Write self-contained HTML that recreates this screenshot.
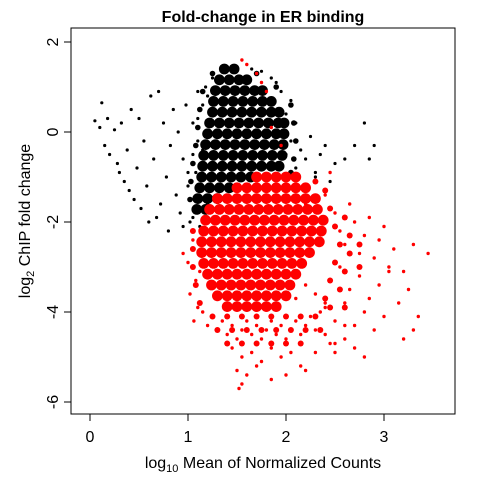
<!DOCTYPE html>
<html><head><meta charset="utf-8">
<style>
html,body{margin:0;padding:0;background:#fff;}
svg{display:block;font-family:"Liberation Sans",Arial,sans-serif;}
</style></head>
<body>
<svg id="chart" width="480" height="480" viewBox="0 0 480 480" xmlns="http://www.w3.org/2000/svg">
<text x="263" y="22" text-anchor="middle" font-size="16" font-weight="bold">Fold-change in ER binding</text>
<g id="marks"></g>
<rect x="71" y="28" width="384" height="386" fill="none" stroke="#000" stroke-width="1"/>
<g id="axes"></g>
<text x="263" y="468" text-anchor="middle" font-size="16">log<tspan font-size="11" dy="4">10</tspan><tspan dy="-4"> Mean of Normalized Counts</tspan></text>
<text transform="translate(30,221) rotate(-90)" text-anchor="middle" font-size="16">log<tspan font-size="11" dy="4">2</tspan><tspan dy="-4"> ChIP fold change</tspan></text>
</svg>
<script>
const xTicks=[0,1,2,3];
const yTicks=[2,0,-2,-4,-6];
const blackCoreX=[1.37,1.47, 1.32,1.42,1.52,1.60, 1.28,1.38,1.48,1.58,1.68,1.76, 1.26,1.36,1.46,1.56,1.66,1.76,1.85, 1.25,1.35,1.45,1.55,1.65,1.75,1.85,1.93, 1.22,1.32,1.42,1.52,1.62,1.72,1.82,1.92,1.98, 1.20,1.30,1.40,1.50,1.60,1.70,1.80,1.90,1.98, 1.18,1.28,1.38,1.48,1.58,1.68,1.78,1.88,1.97, 1.16,1.26,1.36,1.46,1.56,1.66,1.76,1.86,1.96, 1.15,1.25,1.35,1.45,1.55,1.65,1.75,1.85,1.93, 1.14,1.24,1.34,1.44,1.54,1.64, 1.12,1.22,1.32,1.42, 1.10,1.20,1.30, 1.09,1.18];
const blackCoreY=[1.40,1.40, 1.16,1.16,1.16,1.16, 0.92,0.92,0.92,0.92,0.92,0.92, 0.68,0.68,0.68,0.68,0.68,0.68,0.68, 0.44,0.44,0.44,0.44,0.44,0.44,0.44,0.44, 0.20,0.20,0.20,0.20,0.20,0.20,0.20,0.20,0.20, -0.04,-0.04,-0.04,-0.04,-0.04,-0.04,-0.04,-0.04,-0.04, -0.28,-0.28,-0.28,-0.28,-0.28,-0.28,-0.28,-0.28,-0.28, -0.52,-0.52,-0.52,-0.52,-0.52,-0.52,-0.52,-0.52,-0.52, -0.76,-0.76,-0.76,-0.76,-0.76,-0.76,-0.76,-0.76,-0.76, -1.00,-1.00,-1.00,-1.00,-1.00,-1.00, -1.24,-1.24,-1.24,-1.24, -1.48,-1.48,-1.48, -1.72,-1.72];
const blackMidX=[1.15,1.12,1.10,1.08,1.05,1.03,1.02,2.05,2.08,2.10,2.08,2.05,1.90,1.70,1.25];
const blackMidY=[0.9,0.5,0.1,-0.3,-0.7,-1.1,-1.5,0.6,0.2,-0.2,-0.6,-0.9,1.0,1.3,1.3];
const blackSparseX=[0.05,0.10,0.12,0.15,0.18,0.20,0.25,0.28,0.30,0.32,0.35,0.38,0.40,0.42,0.45,0.48,0.50,0.52,0.55,0.58,0.60,0.62,0.65,0.68,0.70,0.72,0.75,0.78,0.80,0.82,0.85,0.88,0.90,0.92,0.95,0.98,1.00,1.02,1.05,1.08,1.10,1.12,1.15,1.18,1.20,1.25,1.05,0.95, 2.00,2.05,2.10,2.15,2.20,2.25,2.30,2.35,2.40,2.50,2.60,2.70,2.80,2.85,2.90,2.10,2.00,2.05,1.90,1.95,2.30,2.45,2.20, 1.05,1.10,1.00,1.10,1.15,1.20,1.85,1.75,1.65];
const blackSparseY=[0.25,0.10,0.65,-0.30,0.30,-0.50,0.05,-0.70,-0.90,0.20,-1.10,-0.40,-1.30,0.50,-1.50,-0.80,0.30,-1.70,-0.20,-1.20,-2.00,0.80,-0.60,-1.90,0.90,-1.60,0.20,-1.00,-2.20,-0.30,0.50,-1.40,0.00,-1.80,-0.60,0.60,-1.20,-2.00,0.20,-0.90,0.90,-2.10,-0.40,1.00,-1.60,1.20,-1.90,-2.10, -0.50,-0.20,-0.80,-0.40,-0.60,-0.10,-0.90,-0.50,-0.30,-0.70,-0.60,-0.30,0.20,-0.60,-0.30,0.20,0.40,0.70,1.10,0.90,-1.00,-1.10,-1.20, -0.50,-0.20,-0.90,0.30,0.60,0.80,1.20,1.35,1.40];
const redCoreX=[1.70,1.80,1.90,2.00,2.10, 1.50,1.60,1.70,1.80,1.90,2.00,2.10,2.20, 1.30,1.40,1.50,1.60,1.70,1.80,1.90,2.00,2.10,2.20,2.30, 1.22,1.32,1.42,1.52,1.62,1.72,1.82,1.92,2.02,2.12,2.22,2.32, 1.18,1.28,1.38,1.48,1.58,1.68,1.78,1.88,1.98,2.08,2.18,2.28,2.38, 1.16,1.26,1.36,1.46,1.56,1.66,1.76,1.86,1.96,2.06,2.16,2.26,2.36, 1.14,1.24,1.34,1.44,1.54,1.64,1.74,1.84,1.94,2.04,2.14,2.24,2.34, 1.14,1.24,1.34,1.44,1.54,1.64,1.74,1.84,1.94,2.04,2.14,2.24, 1.16,1.26,1.36,1.46,1.56,1.66,1.76,1.86,1.96,2.06,2.16, 1.20,1.30,1.40,1.50,1.60,1.70,1.80,1.90,2.00,2.10, 1.24,1.34,1.44,1.54,1.64,1.74,1.84,1.94,2.04, 1.30,1.40,1.50,1.60,1.70,1.80,1.90,2.00, 1.40,1.50,1.60,1.70,1.80,1.90];
const redCoreY=[-1.00,-1.00,-1.00,-1.00,-1.00, -1.24,-1.24,-1.24,-1.24,-1.24,-1.24,-1.24,-1.24, -1.48,-1.48,-1.48,-1.48,-1.48,-1.48,-1.48,-1.48,-1.48,-1.48,-1.48, -1.72,-1.72,-1.72,-1.72,-1.72,-1.72,-1.72,-1.72,-1.72,-1.72,-1.72,-1.72, -1.96,-1.96,-1.96,-1.96,-1.96,-1.96,-1.96,-1.96,-1.96,-1.96,-1.96,-1.96,-1.96, -2.20,-2.20,-2.20,-2.20,-2.20,-2.20,-2.20,-2.20,-2.20,-2.20,-2.20,-2.20,-2.20, -2.44,-2.44,-2.44,-2.44,-2.44,-2.44,-2.44,-2.44,-2.44,-2.44,-2.44,-2.44,-2.44, -2.68,-2.68,-2.68,-2.68,-2.68,-2.68,-2.68,-2.68,-2.68,-2.68,-2.68,-2.68, -2.92,-2.92,-2.92,-2.92,-2.92,-2.92,-2.92,-2.92,-2.92,-2.92,-2.92, -3.16,-3.16,-3.16,-3.16,-3.16,-3.16,-3.16,-3.16,-3.16,-3.16, -3.40,-3.40,-3.40,-3.40,-3.40,-3.40,-3.40,-3.40,-3.40, -3.64,-3.64,-3.64,-3.64,-3.64,-3.64,-3.64,-3.64, -3.88,-3.88,-3.88,-3.88,-3.88,-3.88];
const redMidX=[1.25,1.40,1.55,1.70,1.85,2.00,2.15,2.30, 1.30,1.45,1.60,1.75,1.90,2.05,2.20,2.35, 1.40,1.55,1.70,1.85,2.00,2.15, 2.40,2.45,2.50,2.55,2.50,2.45,2.40,2.60,2.65,2.65,2.60,2.55,2.75,2.75,2.30,2.45,2.60, 1.05,1.05,1.05,1.08,1.12];
const redMidY=[-4.10,-4.10,-4.10,-4.10,-4.10,-4.10,-4.10,-4.10, -4.40,-4.40,-4.40,-4.40,-4.40,-4.40,-4.40,-4.40, -4.70,-4.70,-4.70,-4.70,-4.70,-4.70, -1.3,-1.7,-2.1,-2.5,-2.9,-3.3,-3.7,-1.9,-2.3,-2.7,-3.1,-3.5,-2.5,-3.0,-1.1,-3.9,-3.9, -2.2,-2.6,-3.0,-3.4,-3.8];
const redSparseX=[1.55,1.70,1.75,1.60,1.80,1.85,1.95,2.45,2.10,2.20,2.30,2.40,2.50,2.55,2.60,2.65,2.70,2.75,2.80,2.85,2.90,2.95,3.00,3.05,3.10,3.20,3.30,3.45,2.45,2.55,2.65,2.75,2.85,2.95,3.05,3.15,3.25,3.35,2.40,2.50,2.60,2.70,2.80,2.90,3.00,3.20,2.40,2.50,2.60,2.70,2.80,3.30,1.05,1.00,1.08,1.02,1.10,0.95,1.06,1.12,1.15,1.20,1.25,1.30,1.35,1.40,1.45,1.50,1.55,1.60,1.65,1.70,1.75,1.80,1.85,1.90,1.95,2.00,2.05,2.10,2.15,2.20,2.25,2.30,2.35,1.45,1.55,1.65,1.75,1.85,1.95,2.05,2.15,2.30,2.45,1.50,1.60,1.70,1.85,2.00,2.20,1.55,1.52,2.50,2.60,2.30,2.40,2.20,2.10];
const redSparseY=[1.60,1.30,1.10,1.50,0.90,0.10,-0.30,-0.90,-1.30,-1.60,-1.90,-1.40,-1.80,-2.20,-2.50,-1.60,-2.00,-2.70,-2.30,-1.90,-2.80,-2.40,-2.10,-3.00,-2.60,-3.10,-2.50,-2.70,-3.30,-3.00,-3.50,-3.20,-3.70,-3.40,-3.10,-3.80,-3.50,-4.10,-3.90,-4.20,-3.80,-4.30,-4.00,-4.40,-4.10,-4.60,-4.50,-4.70,-4.60,-4.80,-5.00,-4.40,-2.40,-2.90,-3.30,-3.60,-3.90,-2.70,-4.20,-3.10,-4.00,-4.30,-4.10,-4.40,-4.20,-4.50,-4.30,-4.60,-4.40,-4.20,-4.50,-4.30,-4.60,-4.40,-4.20,-4.50,-4.30,-4.60,-4.40,-4.20,-4.50,-4.30,-4.10,-4.40,-4.00,-4.80,-5.00,-4.90,-5.10,-4.80,-5.00,-4.90,-5.20,-4.90,-4.70,-5.30,-5.40,-5.20,-5.50,-5.40,-5.30,-5.60,-5.70,-4.90,-4.30,-3.60,-3.80,-3.40,-3.70];

const X0=90, XS=98, Y0=132, YS=45;
function sx(v){return X0+v*XS;}
function sy(v){return Y0-v*YS;}
const NS='http://www.w3.org/2000/svg';
const marks=document.getElementById('marks');
function plot(xs,ys,r,color,name){
  for(let i=0;i<xs.length;i++){
    const c=document.createElementNS(NS,'circle');
    c.setAttribute('cx',sx(xs[i]).toFixed(1));
    c.setAttribute('cy',sy(ys[i]).toFixed(1));
    c.setAttribute('r',r);
    c.setAttribute('fill',color);
    
    
    marks.appendChild(c);
  }
}
plot(blackSparseX,blackSparseY,1.6,'#000','black-point');
plot(blackMidX,blackMidY,2.8,'#000','black-point');
plot(blackCoreX,blackCoreY,5.4,'#000','black-point');
plot(redCoreX,redCoreY,5.4,'#f00','red-point');
plot(redMidX,redMidY,3,'#f00','red-point');
plot(redSparseX,redSparseY,1.7,'#f00','red-point');

const axes=document.getElementById('axes');
xTicks.forEach(t=>{
  const l=document.createElementNS(NS,'line');
  l.setAttribute('x1',sx(t));l.setAttribute('x2',sx(t));
  l.setAttribute('y1',414);l.setAttribute('y2',421);
  l.setAttribute('stroke','#000');
  
  
  axes.appendChild(l);
  const tx=document.createElementNS(NS,'text');
  tx.setAttribute('x',sx(t));tx.setAttribute('y',442);
  tx.setAttribute('text-anchor','middle');tx.setAttribute('font-size','16');
  tx.textContent=t;
  
  
  axes.appendChild(tx);
});
yTicks.forEach(t=>{
  const l=document.createElementNS(NS,'line');
  l.setAttribute('x1',64);l.setAttribute('x2',71);
  l.setAttribute('y1',sy(t));l.setAttribute('y2',sy(t));
  l.setAttribute('stroke','#000');
  
  
  axes.appendChild(l);
  const tx=document.createElementNS(NS,'text');
  tx.setAttribute('transform','translate(58,'+sy(t)+') rotate(-90)');
  tx.setAttribute('text-anchor','middle');tx.setAttribute('font-size','16');
  tx.textContent=t;
  
  
  axes.appendChild(tx);
});
</script>
</body></html>
